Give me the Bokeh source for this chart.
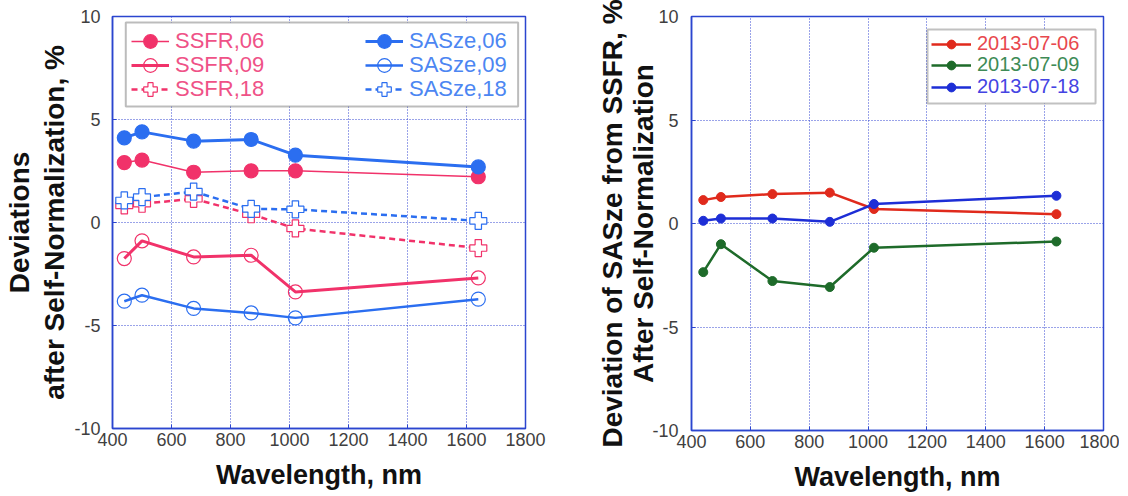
from bokeh.plotting import figure
from bokeh.models import Range1d, FixedTicker, Legend, LegendItem, BoxAnnotation
from bokeh.layouts import row
from bokeh.embed import file_html
from bokeh.resources import INLINE

# ---------------- data ----------------
wavelength = [440, 500, 675, 870, 1020, 1640]

ssfr_06 = [2.91, 3.03, 2.44, 2.51, 2.51, 2.22]
ssfr_09 = [-1.75, -0.89, -1.67, -1.59, -3.37, -2.69]
ssfr_18 = [0.83, 0.91, 1.15, 0.40, -0.29, -1.24]
sasze_06 = [4.11, 4.40, 3.95, 4.03, 3.27, 2.70]
sasze_09 = [-3.82, -3.53, -4.17, -4.39, -4.63, -3.72]
sasze_18 = [1.07, 1.23, 1.50, 0.66, 0.64, 0.08]

dev_0706 = [1.13, 1.28, 1.42, 1.49, 0.70, 0.45]
dev_0709 = [-2.35, -1.00, -2.78, -3.07, -1.17, -0.87]
dev_0718 = [0.13, 0.24, 0.24, 0.08, 0.94, 1.34]

x_ticks = [400, 600, 800, 1000, 1200, 1400, 1600, 1800]
y_ticks = [-10, -5, 0, 5, 10]
y_tick_text = {-10: "-10", -5: "-5", 0: "0", 5: "5", 10: "10"}

left_labels_red = ["SSFR,06", "SSFR,09", "SSFR,18"]
left_labels_blue = ["SASze,06", "SASze,09", "SASze,18"]
right_labels = ["2013-07-06", "2013-07-09", "2013-07-18"]

# ---------------- styles ----------------
FONT = "Liberation Sans"
FRAME = "#2b45cf"
GRID = "#3446d2"
TICK_TXT = "#3f3f3f"
PINK = "#f1326a"
PINK_TXT = "#ef5287"
BLUE = "#2b6ef0"
BLUE_TXT = "#4c86f2"
R_RED, R_GREEN, R_BLUE = "#e02a1c", "#1e6b2a", "#1d2ed6"
R_RED_T, R_GREEN_T, R_BLUE_T = "#e8484e", "#3e8b56", "#4444e2"


def style(p, ylabel, label_standoff, line_height, tick_standoff):
    p.x_range = Range1d(400, 1800)
    p.y_range = Range1d(-10, 10)
    p.xaxis.ticker = FixedTicker(ticks=x_ticks)
    p.yaxis.ticker = FixedTicker(ticks=y_ticks)
    p.yaxis.major_label_overrides = y_tick_text
    p.xgrid.ticker = FixedTicker(ticks=x_ticks)
    p.ygrid.ticker = FixedTicker(ticks=y_ticks)
    for ax in (p.xaxis, p.yaxis):
        ax.axis_line_color = FRAME
        ax.axis_line_width = 1.5
        ax.major_tick_line_color = FRAME
        ax.major_tick_in = 4
        ax.major_tick_out = 0
        ax.minor_tick_line_color = None
        ax.major_label_text_font = FONT
        ax.major_label_text_font_size = "18px"
        ax.major_label_text_color = TICK_TXT
        ax.axis_label_text_font = FONT
        ax.axis_label_text_font_style = "bold"
        ax.axis_label_text_color = "#111111"
    p.xaxis.axis_label = "Wavelength, nm"
    p.xaxis.axis_label_text_font_size = "27px"
    p.xaxis.major_label_standoff = 4
    p.xaxis.axis_label_standoff = 11
    p.yaxis.axis_label = ylabel
    p.yaxis.axis_label_text_font_size = "28px"
    p.yaxis.axis_label_text_line_height = line_height
    p.yaxis.major_label_standoff = tick_standoff
    p.yaxis.axis_label_standoff = label_standoff
    for g in (p.xgrid, p.ygrid):
        g.grid_line_color = GRID
        g.grid_line_dash = "1 2"
        g.grid_line_width = 1
    p.outline_line_color = FRAME
    p.outline_line_width = 1.5
    p.background_fill_color = "white"
    p.border_fill_color = "white"


def make_legend(item, loc, color, gw, gh, size, standoff):
    return Legend(items=[item], location=loc, orientation="vertical",
                  glyph_width=gw, glyph_height=gh, label_height=gh,
                  spacing=0, padding=2, margin=0, label_standoff=standoff,
                  label_text_font=FONT, label_text_font_size=size,
                  label_text_color=color, border_line_color=None,
                  background_fill_alpha=0)


# ---------------- left panel ----------------
p1 = figure(frame_width=413, frame_height=412,
            min_border_left=108, min_border_right=69, min_border_top=16, min_border_bottom=60,
            output_backend="svg", toolbar_location=None)
style(p1, "Deviations\nafter Self-Normalization, %", 1, 1.15, 12)

# legend box (white, black frame)
p1.add_layout(BoxAnnotation(left=445, right=1775, top=9.71, bottom=5.63,
                            fill_color="white", fill_alpha=1.0,
                            line_color="#222222", line_width=2, level="overlay"))

MS = 14
left_specs = [
    (ssfr_06, PINK, 1.5, "solid", "circle", PINK, 1.0),
    (ssfr_09, PINK, 3.0, "solid", "circle", PINK, 0.0),
    (ssfr_18, PINK, 2.5, "6 4", "plus", "white", 1.0),
    (sasze_06, BLUE, 3.0, "solid", "circle", BLUE, 1.0),
    (sasze_09, BLUE, 2.5, "solid", "circle", BLUE, 0.0),
    (sasze_18, BLUE, 2.5, "6 4", "plus", "white", 1.0),
]
left_labels = left_labels_red + left_labels_blue
left_text_colors = [PINK_TXT] * 3 + [BLUE_TXT] * 3
row_bottoms = [370, 346, 322]
col_x = [19, 253]
for i, ((vals, c, lw, dash, mk, fc, fa), lab, tc) in enumerate(zip(left_specs, left_labels, left_text_colors)):
    l = p1.line(wavelength, vals, line_color=c, line_width=lw, line_dash=dash)
    m = p1.scatter(wavelength, vals, marker=mk, size=(17 if mk == "plus" else MS),
                   fill_color=fc, fill_alpha=fa, line_color=c, line_width=1.2)
    loc = (col_x[i // 3], row_bottoms[i % 3])
    p1.add_layout(make_legend(LegendItem(label=lab, renderers=[l, m]), loc, tc, 38, 34, "22px", 6))

# ---------------- right panel ----------------
p2 = figure(frame_width=412, frame_height=414,
            min_border_left=97, min_border_right=16, min_border_top=14, min_border_bottom=60,
            output_backend="svg", toolbar_location=None)
style(p2, "Deviation of SASze from SSFR, %\nAfter Self-Normalization", -10, 1.0, 13)

p2.add_layout(BoxAnnotation(left=1202, right=1773, top=9.37, bottom=5.80,
                            fill_color="white", fill_alpha=1.0,
                            line_color="#333333", line_width=2, level="overlay"))

series = [(dev_0706, R_RED, R_RED_T), (dev_0709, R_GREEN, R_GREEN_T), (dev_0718, R_BLUE, R_BLUE_T)]
locs = [(240, 375), (240, 354), (240, 332)]
for (vals, c, ct), lab, loc in zip(series, right_labels, locs):
    l = p2.line(wavelength, vals, line_color=c, line_width=2.5)
    m = p2.scatter(wavelength, vals, marker="circle", size=9, fill_color=c, line_color=c)
    p2.add_layout(make_legend(LegendItem(label=lab, renderers=[l, m]), loc, ct, 40, 22, "20px", 6))

layout = row(p1, p2)
open("out.html", "w").write(file_html(layout, INLINE))
